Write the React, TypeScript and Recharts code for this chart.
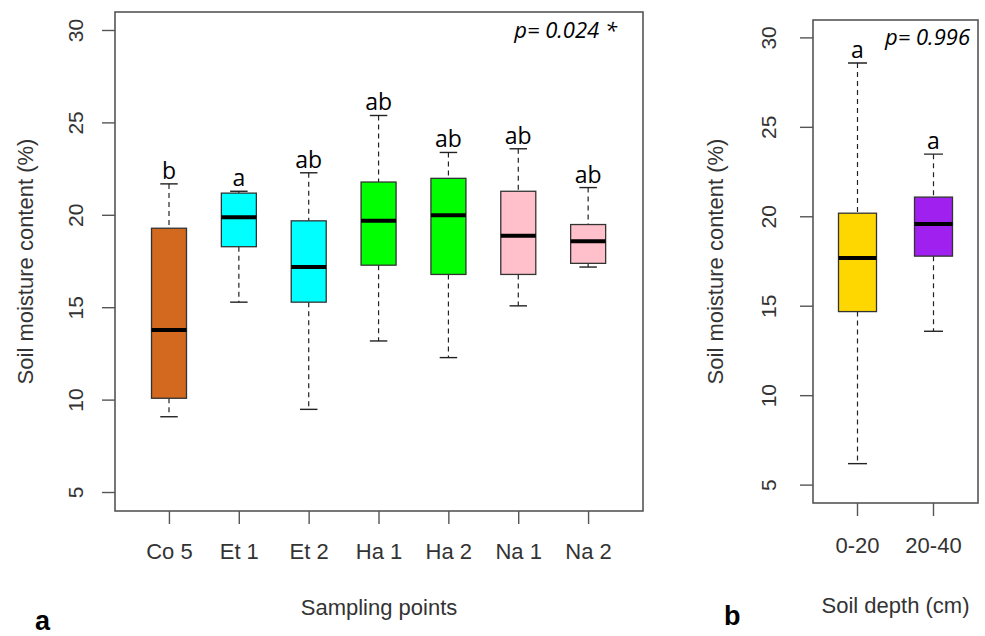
import { Bar, ComposedChart, XAxis, YAxis } from "recharts";

// panel a: sampling points
const sites = ["Co 5", "Et 1", "Et 2", "Ha 1", "Ha 2", "Na 1", "Na 2"];
const siteMin = [9.1, 15.3, 9.5, 13.2, 12.3, 15.1, 17.2];
const siteQ1 = [10.1, 18.3, 15.3, 17.3, 16.8, 16.8, 17.4];
const siteMedian = [13.8, 19.9, 17.2, 19.7, 20.0, 18.9, 18.6];
const siteQ3 = [19.3, 21.2, 19.7, 21.8, 22.0, 21.3, 19.5];
const siteMax = [21.7, 21.3, 22.3, 25.4, 23.4, 23.6, 21.5];
const siteLetters = ["b", "a", "ab", "ab", "ab", "ab", "ab"];
const siteColors = ["#D2691E", "#00FFFF", "#00FFFF", "#00FF00", "#00FF00", "#FFC0CB", "#FFC0CB"];

// panel b: soil depth
const depths = ["0-20", "20-40"];
const depthMin = [6.2, 13.6];
const depthQ1 = [14.7, 17.8];
const depthMedian = [17.7, 19.6];
const depthQ3 = [20.2, 21.1];
const depthMax = [28.6, 23.5];
const depthLetters = ["a", "a"];
const depthColors = ["#FFD700", "#A020F0"];

const yTicks = [5, 10, 15, 20, 25, 30];

const AXIS_TEXT = "#333";
const FRAME = "#555";
const axisFont = "'Liberation Sans', Arial, sans-serif";
const noteFont = "'Open Sans', sans-serif";

type Row = {
  name: string;
  lo: number;
  q1: number;
  median: number;
  q3: number;
  hi: number;
  letter: string;
  color: string;
};

function makeRows(
  names: string[],
  lo: number[],
  q1: number[],
  med: number[],
  q3: number[],
  hi: number[],
  letters: string[],
  colors: string[]
): Row[] {
  return names.map((name, i) => ({
    name,
    lo: lo[i],
    q1: q1[i],
    median: med[i],
    q3: q3[i],
    hi: hi[i],
    letter: letters[i],
    color: colors[i],
  }));
}

const siteRows = makeRows(sites, siteMin, siteQ1, siteMedian, siteQ3, siteMax, siteLetters, siteColors);
const depthRows = makeRows(depths, depthMin, depthQ1, depthMedian, depthQ3, depthMax, depthLetters, depthColors);

// the bar spans lo..hi, so its pixel box gives the y scale for the other stats
function BoxShape(props: any) {
  const { x, y, width, height, payload } = props;
  if (!payload || !height) return null;
  const top = Math.min(y, y + height);
  const ppu = Math.abs(height) / (payload.hi - payload.lo);
  const py = (v: number) => top + (payload.hi - v) * ppu;
  const cx = x + width / 2;
  const cap = width / 2;
  const yHi = py(payload.hi);
  const yQ3 = py(payload.q3);
  const yMed = py(payload.median);
  const yQ1 = py(payload.q1);
  const yLo = py(payload.lo);
  return (
    <g>
      <line x1={cx} x2={cx} y1={yHi} y2={yQ3} stroke="#222" strokeWidth={1.2} strokeDasharray="5 4" />
      <line x1={cx} x2={cx} y1={yQ1} y2={yLo} stroke="#222" strokeWidth={1.2} strokeDasharray="5 4" />
      <line x1={cx - cap / 2} x2={cx + cap / 2} y1={yHi} y2={yHi} stroke="#222" strokeWidth={1.4} />
      <line x1={cx - cap / 2} x2={cx + cap / 2} y1={yLo} y2={yLo} stroke="#222" strokeWidth={1.4} />
      <rect x={x} y={yQ3} width={width} height={yQ1 - yQ3} fill={payload.color} stroke="#333" strokeWidth={1.3} />
      <line x1={x} x2={x + width} y1={yMed} y2={yMed} stroke="#000" strokeWidth={4} />
      <text x={cx} y={yHi - 5} textAnchor="middle" fontFamily={noteFont} fontSize={23} fill="#000">
        {payload.letter}
      </text>
    </g>
  );
}

function YTick(props: any) {
  const { x, y, payload, dx } = props;
  const bx = x + dx;
  return (
    <text
      x={bx}
      y={y}
      transform={`rotate(-90 ${bx} ${y})`}
      textAnchor="middle"
      fontFamily={axisFont}
      fontSize={21}
      fill={AXIS_TEXT}
    >
      {payload.value}
    </text>
  );
}

type PanelProps = {
  rows: Row[];
  width: number;
  height: number;
  margin: { top: number; right: number; bottom: number; left: number };
  yAxisWidth: number;
  xAxisHeight: number;
  xPad: number;
  barSize: number;
  yTickDx: number;
  xTickMargin: number;
  yTitleX: number;
  xTitle: string;
  xTitleBaseline: number;
};

function BoxPanel(p: PanelProps) {
  const yTitle = (lp: any) => {
    const vb = lp.viewBox || {};
    const tx = (vb.x ?? 0) + p.yTitleX;
    const ty = (vb.y ?? 0) + (vb.height ?? 0) / 2;
    return (
      <text
        x={tx}
        y={ty}
        transform={`rotate(-90 ${tx} ${ty})`}
        textAnchor="middle"
        dominantBaseline="central"
        fontFamily={axisFont}
        fontSize={22}
        fill={AXIS_TEXT}
      >
        Soil moisture content (%)
      </text>
    );
  };
  const xTitle = (lp: any) => {
    const vb = lp.viewBox || {};
    return (
      <text
        x={(vb.x ?? 0) + (vb.width ?? 0) / 2}
        y={(vb.y ?? 0) + p.xTitleBaseline}
        textAnchor="middle"
        fontFamily={axisFont}
        fontSize={22}
        fill={AXIS_TEXT}
      >
        {p.xTitle}
      </text>
    );
  };
  // plot-area frame, from the same margins the chart uses
  const fx = p.margin.left + p.yAxisWidth;
  const fy = p.margin.top;
  const fw = p.width - fx - p.margin.right;
  const fh = p.height - fy - p.xAxisHeight - p.margin.bottom;
  return (
    <div style={{ position: "relative", width: p.width, height: p.height }}>
      <ComposedChart width={p.width} height={p.height} data={p.rows} margin={p.margin}>
        <XAxis
          dataKey="name"
          height={p.xAxisHeight}
          padding={{ left: p.xPad, right: p.xPad }}
          tickSize={13}
          tickMargin={p.xTickMargin}
          tickLine={{ stroke: FRAME, strokeWidth: 1.4 }}
          axisLine={false}
          tick={{ fill: AXIS_TEXT, fontSize: 22, fontFamily: axisFont }}
          interval={0}
          label={{ content: xTitle }}
        />
        <YAxis
          width={p.yAxisWidth}
          domain={[4, 31]}
          ticks={yTicks}
          allowDataOverflow
          tickSize={13}
          tickMargin={0}
          tickLine={{ stroke: FRAME, strokeWidth: 1.4 }}
          axisLine={false}
          tick={<YTick dx={p.yTickDx} />}
          label={{ content: yTitle }}
        />
        <Bar
          dataKey={(d: Row) => [d.lo, d.hi]}
          barSize={p.barSize}
          isAnimationActive={false}
          shape={(sp: any) => <BoxShape {...sp} />}
        />
      </ComposedChart>
      <svg
        width={p.width}
        height={p.height}
        style={{ position: "absolute", left: 0, top: 0, pointerEvents: "none" }}
      >
        <rect x={fx} y={fy} width={fw} height={fh} fill="none" stroke={FRAME} strokeWidth={1.6} />
      </svg>
    </div>
  );
}

export default function App() {
  return (
    <div
      style={{
        position: "absolute",
        left: 0,
        top: 0,
        width: 985,
        height: 636,
        background: "#fff",
        overflow: "hidden",
      }}
    >
      <div style={{ position: "absolute", left: 0, top: 0 }}>
        <BoxPanel
          rows={siteRows}
          width={660}
          height={636}
          margin={{ top: 12, right: 17, bottom: 0, left: 0 }}
          yAxisWidth={115}
          xAxisHeight={125}
          xPad={19.5}
          barSize={35}
          yTickDx={-19}
          xTickMargin={19}
          yTitleX={25}
          xTitle="Sampling points"
          xTitleBaseline={104}
        />
      </div>
      <div style={{ position: "absolute", left: 660, top: 0 }}>
        <BoxPanel
          rows={depthRows}
          width={325}
          height={636}
          margin={{ top: 20, right: 7, bottom: 0, left: 0 }}
          yAxisWidth={153}
          xAxisHeight={133}
          xPad={6.5}
          barSize={38}
          yTickDx={-24}
          xTickMargin={21}
          yTitleX={55}
          xTitle="Soil depth (cm)"
          xTitleBaseline={110}
        />
      </div>
      <svg
        width={985}
        height={636}
        style={{ position: "absolute", left: 0, top: 0, pointerEvents: "none" }}
      >
        <text x={617} y={38} textAnchor="end" fontFamily={noteFont} fontStyle="italic" fontSize={22} fill="#000">
          p= 0.024 *
        </text>
        <text x={970} y={45} textAnchor="end" fontFamily={noteFont} fontStyle="italic" fontSize={22} fill="#000">
          p= 0.996
        </text>
        <text x={35} y={630} fontFamily={axisFont} fontWeight="bold" fontSize={27} fill="#000">
          a
        </text>
        <text x={724} y={625} fontFamily={axisFont} fontWeight="bold" fontSize={27} fill="#000">
          b
        </text>
      </svg>
    </div>
  );
}
